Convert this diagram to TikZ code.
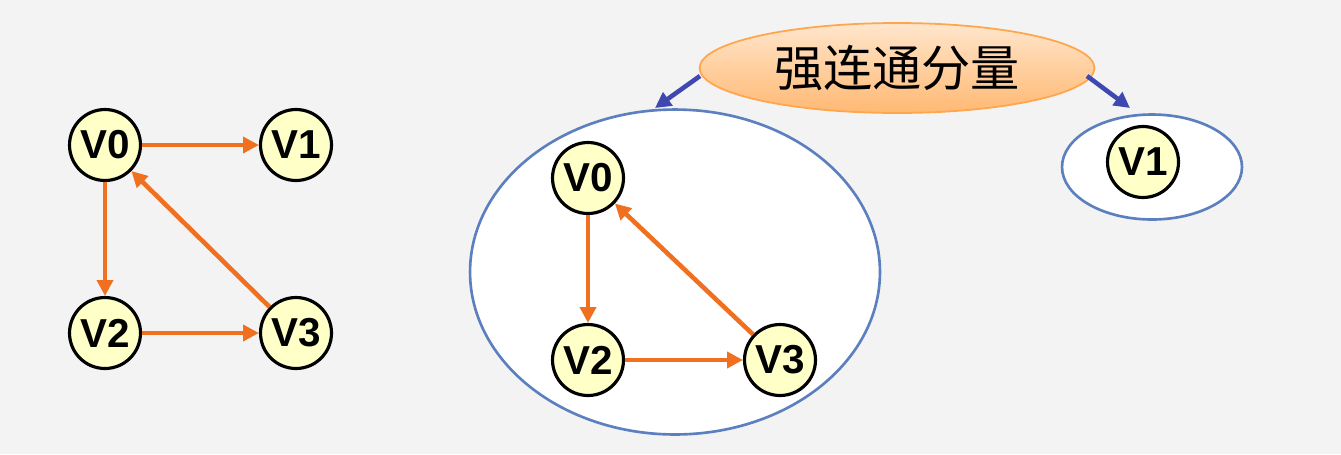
\documentclass[tikz,border=0pt]{standalone}
\usepackage{fontspec}
\setmainfont{Liberation Sans}
\newfontfamily\cjk{Noto Sans CJK SC}
\usetikzlibrary{arrows.meta,shapes.geometric}
\definecolor{bg}{HTML}{F3F3F3}
\definecolor{vfill}{HTML}{FFFFC8}
\definecolor{eorange}{HTML}{F07020}
\definecolor{eblue}{HTML}{5B7FBF}
\definecolor{ablue}{HTML}{3F48B0}
\begin{document}
\begin{tikzpicture}[x=0.02cm,y=-0.02cm,
  vtx/.style={circle,draw=black,line width=1.8pt,fill=vfill,minimum size=1.42cm,inner sep=0pt,font=\fontsize{23}{23}\selectfont\bfseries},
  oarr/.style={draw=eorange,line width=2.6pt,-{Triangle[length=9pt,width=9pt]}},
  barr/.style={draw=ablue,line width=2.6pt,-{Triangle[length=9pt,width=9pt]}},
  grp/.style={ellipse,draw=eblue,line width=1.5pt,fill=white,inner sep=0pt}]
\fill[bg] (0,0) rectangle (1341,454);
\useasboundingbox (0,0) rectangle (1341,454);
% left graph
\node[vtx] (a0) at (105,145) {V0};
\node[vtx] (a1) at (296,145) {V1};
\node[vtx] (a2) at (105,333) {V2};
\node[vtx] (a3) at (296,333) {V3};
\draw[oarr] (a0) -- (a1);
\draw[oarr] (a0) -- (a2);
\draw[oarr] (a2) -- (a3);
\draw[oarr] (a3) -- (a0);
% components
\node[grp,minimum width=8.2cm,minimum height=6.5cm] (g1) at (675,272) {};
\node[grp,minimum width=3.6cm,minimum height=2.1cm] (g2) at (1152,167) {};
\node[vtx] (b0) at (588,178) {V0};
\node[vtx] (b2) at (588,360) {V2};
\node[vtx] (b3) at (780,360) {V3};
\node[vtx] (b1) at (1143,162) {V1};
\draw[oarr] (b0) -- (b2);
\draw[oarr] (b2) -- (b3);
\draw[oarr] (b3) -- (b0);
% title
\node[ellipse,draw=orange!70,line width=1pt,top color=white!80!orange,bottom color=orange!55!white,minimum width=7.9cm,minimum height=1.8cm,font=\cjk\fontsize{28}{28}\selectfont] (t) at (897,68) {强连通分量};
\coordinate (l1) at (700,76);
\coordinate (l2) at (655,108);
\coordinate (r1) at (1087,76);
\coordinate (r2) at (1130,108);
\draw[barr] (l1) -- (l2);
\draw[barr] (r1) -- (r2);
\end{tikzpicture}
\end{document}
